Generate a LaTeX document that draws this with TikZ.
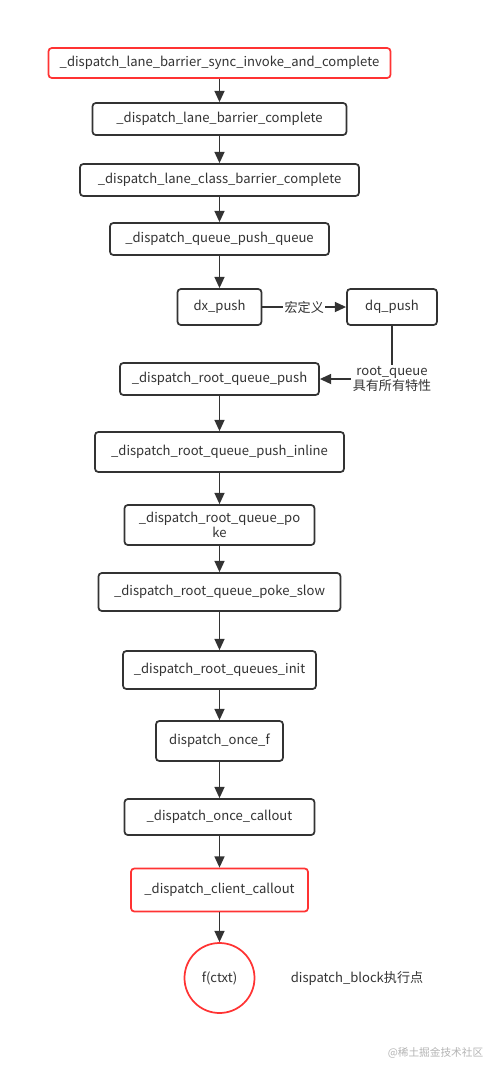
\documentclass[tikz,border=0pt]{standalone}
\usepackage{fontspec}
\setmainfont{Noto Sans CJK SC}
\usetikzlibrary{arrows.meta}
\definecolor{ink}{HTML}{333333}
\definecolor{hot}{HTML}{FF3333}
\definecolor{mark}{HTML}{B4B4B4}

\tikzset{
  fn/.style={draw=ink, line width=1.3pt, rounded corners=2.5pt, fill=white,
    inner sep=0pt, text=ink, align=center, font=\fontsize{9.8}{11.5}\selectfont},
  hotfn/.style={fn, draw=hot},
  note/.style={text=ink, inner sep=1pt, align=center, font=\fontsize{9.8}{11.5}\selectfont},
  link/.style={-{Triangle[length=8.5pt,width=7.5pt]}, ink, line width=1.3pt},
}

\begin{document}
\begin{tikzpicture}[x=0.75pt,y=-0.75pt]
 \useasboundingbox (0,0) rectangle (498,1075);
 % call chain
 \node[hotfn, minimum width=256.5pt, minimum height=22.5pt] (sync) at (219.5,63) {\_dispatch\_lane\_barrier\_sync\_invoke\_and\_complete};
 \node[fn, minimum width=190.5pt, minimum height=24pt] (lane) at (219.5,119) {\_dispatch\_lane\_barrier\_complete};
 \node[fn, minimum width=209.25pt, minimum height=24pt] (cls) at (219.5,180) {\_dispatch\_lane\_class\_barrier\_complete};
 \node[fn, minimum width=164.25pt, minimum height=24pt] (pushq) at (219.5,239) {\_dispatch\_queue\_push\_queue};
 \node[fn, minimum width=63pt, minimum height=27pt] (dx) at (219.5,307) {dx\_push};
 \node[fn, minimum width=67.5pt, minimum height=27pt] (dq) at (392,307) {dq\_push};
 \node[note] (rq) at (392,379) {root\_queue\\具有所有特性};
 \node[fn, minimum width=149.25pt, minimum height=24pt] (rpush) at (219.5,379) {\_dispatch\_root\_queue\_push};
 \node[fn, minimum width=186.75pt, minimum height=30pt] (inline) at (219.5,452) {\_dispatch\_root\_queue\_push\_inline};
 \node[fn, minimum width=142.5pt, minimum height=30pt] (poke) at (219.5,525) {\_dispatch\_root\_queue\_po\\ke};
 \node[fn, minimum width=181.5pt, minimum height=28.5pt] (slow) at (219.5,592) {\_dispatch\_root\_queue\_poke\_slow};
 \node[fn, minimum width=144.75pt, minimum height=28.5pt] (init) at (219.5,670) {\_dispatch\_root\_queues\_init};
 \node[fn, minimum width=95.25pt, minimum height=30pt] (once) at (219.5,741) {dispatch\_once\_f};
 \node[fn, minimum width=142.5pt, minimum height=27pt] (callout) at (219.5,817) {\_dispatch\_once\_callout};
 \node[hotfn, minimum width=132.75pt, minimum height=32.25pt] (client) at (219.5,890) {\_dispatch\_client\_callout};
 \node[hotfn, circle, minimum size=52.5pt] (ctxt) at (219.5,978) {f(ctxt)};
 \node[note] (point) at (357,978) {dispatch\_block执行点};
 \node[text=mark, inner sep=0pt, font=\fontsize{8}{9}\selectfont] (wm) at (435.5,1053) {@稀土掘金技术社区};

 \draw[link] (sync) -- (lane);
 \draw[link] (lane) -- (cls);
 \draw[link] (cls) -- (pushq);
 \draw[link] (pushq) -- (dx);
 \draw[link] (dx) -- node[note, fill=white] {宏定义} (dq);
 \draw[ink, line width=0.9pt] (dq) -- (rq);
 \draw[link] (rq) -- (rpush);
 \draw[link] (rpush) -- (inline);
 \draw[link] (inline) -- (poke);
 \draw[link] (poke) -- (slow);
 \draw[link] (slow) -- (init);
 \draw[link] (init) -- (once);
 \draw[link] (once) -- (callout);
 \draw[link] (callout) -- (client);
 \draw[link] (client) -- (ctxt);
\end{tikzpicture}
\end{document}
